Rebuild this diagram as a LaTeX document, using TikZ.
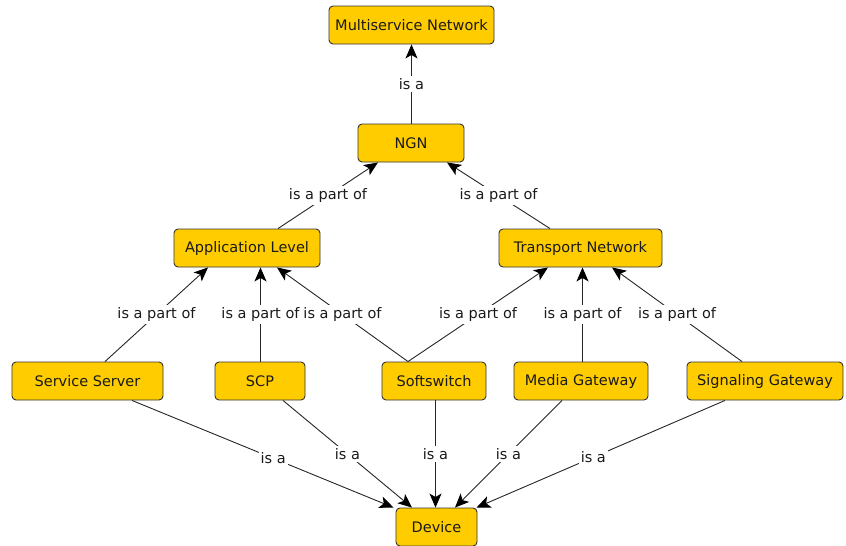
\documentclass[tikz,border=0pt]{standalone}
\usepackage{fontspec}
\setmainfont{DejaVu Sans}
\usetikzlibrary{arrows.meta,calc}
\definecolor{boxfill}{HTML}{FFCC00}
\definecolor{boxline}{HTML}{333333}
\definecolor{txt}{HTML}{1A1A1A}
\begin{document}
\begin{tikzpicture}[x=1pt,y=-1pt,
  box/.style={draw=boxline,fill=boxfill,line width=0.9pt,rounded corners=4pt,
    minimum height=38pt,inner sep=0pt,text=txt,font=\fontsize{14.5}{16}\selectfont},
  lbl/.style={fill=white,inner sep=2pt,text=txt,font=\fontsize{14.5}{16}\selectfont},
  edge/.style={draw=black!85,line width=0.9pt,-{Stealth[length=14pt,width=12pt,inset=3.5pt,black]}}]
\useasboundingbox (0,0) rectangle (846,546);
% nodes
\node[box,minimum width=165pt] (ms)  at (411.5,25) {Multiservice Network};
\node[box,minimum width=106pt] (ngn) at (411,143) {NGN};
\node[box,minimum width=146pt] (al)  at (247,248) {Application Level};
\node[box,minimum width=163pt] (tn)  at (580.5,248) {Transport Network};
\node[box,minimum width=151pt] (ss)  at (87.5,381) {Service Server};
\node[box,minimum width=90pt]  (scp) at (260,381) {SCP};
\node[box,minimum width=104pt] (sw)  at (434,381) {Softswitch};
\node[box,minimum width=134pt] (mg)  at (581,381) {Media Gateway};
\node[box,minimum width=156pt] (sg)  at (765,381) {Signaling Gateway};
\node[box,minimum width=81pt]  (dev) at (436.5,527) {Device};
% is a
\draw[edge] ([xshift=0.5pt]ngn.north) -- node[lbl]{is a} ([xshift=0.5pt]ngn.north |- ms.south);
% NGN parts
\draw[edge] ([xshift=31pt]al.north) -- node[lbl]{is a part of} ([xshift=-33pt]ngn.south);
\draw[edge] ([xshift=-30.5pt]tn.north) -- node[lbl]{is a part of} ([xshift=36pt]ngn.south);
% application level parts
\draw[edge] ([xshift=17.5pt]ss.north) -- node[lbl]{is a part of} ([xshift=-39pt]al.south);
\draw[edge] ([xshift=0.5pt]scp.north) -- node[lbl]{is a part of} ([xshift=0.5pt]scp.north |- al.south);
\draw[edge] ([xshift=-26pt]sw.north) -- node[lbl]{is a part of} ([xshift=30pt]al.south);
% transport parts
\draw[edge] ([xshift=-26pt]sw.north) -- node[lbl]{is a part of} ([xshift=-32.5pt]tn.south);
\draw[edge] ([xshift=1.5pt]mg.north) -- node[lbl]{is a part of} ([xshift=1.5pt]mg.north |- tn.south);
\draw[edge] ([xshift=-23pt]sg.north) -- node[lbl]{is a part of} ([xshift=31.5pt]tn.south);
% devices
\draw[edge] ([xshift=44.5pt]ss.south) -- node[lbl,pos=0.54]{is a} ([xshift=-43pt]dev.north);
\draw[edge] ([xshift=23pt]scp.south) -- node[lbl]{is a} ([xshift=-24.5pt]dev.north);
\draw[edge] ([xshift=1.5pt]sw.south) -- node[lbl]{is a} ([xshift=1.5pt]sw.south |- dev.north);
\draw[edge] ([xshift=-19pt]mg.south) -- node[lbl]{is a} ([xshift=18.5pt]dev.north);
\draw[edge] ([xshift=-40pt]sg.south) -- node[lbl,pos=0.53]{is a} ([xshift=40pt]dev.north);
\end{tikzpicture}
\end{document}
